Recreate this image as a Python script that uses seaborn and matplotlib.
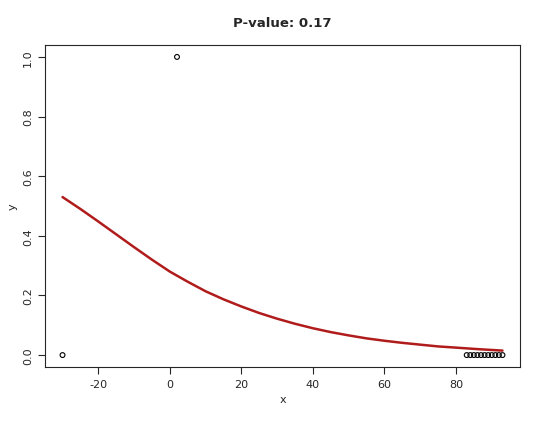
import matplotlib
matplotlib.use("Agg")
import matplotlib.pyplot as plt
import seaborn as sns

pt_x = [-30, 2, 83, 84, 85, 86, 87, 88, 89, 90, 91, 92, 93]
pt_y = [0, 1, 0, 0, 0, 0, 0, 0, 0, 0, 0, 0, 0]
curve_x = [-30, -25, -20, -15, -10, -5, 0, 5, 10, 15, 20, 25, 30, 35, 40, 45, 50, 55, 60, 65, 70, 75, 80, 86, 93]
curve_y = [0.53, 0.49, 0.448, 0.405, 0.362, 0.32, 0.28, 0.246, 0.214, 0.187, 0.163, 0.141, 0.122, 0.105, 0.09, 0.077, 0.066, 0.056, 0.048, 0.041, 0.035, 0.029, 0.025, 0.02, 0.015]
x_ticks = [-20, 0, 20, 40, 60, 80]
y_ticks = [0.0, 0.2, 0.4, 0.6, 0.8, 1.0]

sns.set_style("ticks")
plt.rcParams['font.family'] = ['DejaVu Sans']
plt.rcParams['axes.unicode_minus'] = False
fig = plt.figure(figsize=(5.4, 4.27), dpi=100)
ax = fig.add_axes([45/540, 1-368/427, 475/540, 322/427])
sns.lineplot(x=curve_x, y=curve_y, ax=ax, color="#b01c1c", linewidth=1.8)
sns.scatterplot(x=pt_x, y=pt_y, ax=ax, marker="o", s=12, facecolor="none", edgecolor="black", linewidth=0.8)
ax.set_xlim(-34.9, 97.9)
ax.set_ylim(-0.04, 1.04)
ax.set_xticks(x_ticks)
ax.set_yticks(y_ticks)
ax.set_yticklabels([str(v) for v in y_ticks], rotation=90, va="center")
ax.tick_params(labelsize=8, length=5)
ax.set_xlabel("x", fontsize=8)
ax.set_ylabel("y", fontsize=8)
ax.set_title("P-value: 0.17", fontsize=9.5, fontweight="bold", pad=14)
for s in ax.spines.values():
    s.set_linewidth(0.8)
fig.savefig("out.png", dpi=100)
